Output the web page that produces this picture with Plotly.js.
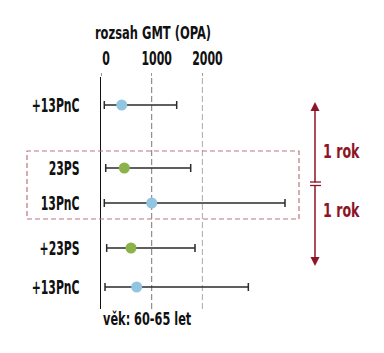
<!DOCTYPE html>
<html>
<head>
<meta charset="utf-8">
<script src="https://cdn.plot.ly/plotly-3.0.1.min.js"></script>
<style>html,body{margin:0;padding:0;background:#fff;}#chart{width:384px;height:353px;}</style>
</head>
<body>
<div id="chart"></div>
<script>
// ---- data ----
const categories = ['+13PnC', '23PS', '13PnC', '+23PS', '+13PnC'];
const vaccine    = ['PnC', 'PS', 'PnC', 'PS', 'PnC'];
const gmt        = [408, 460, 1000, 592, 704];
const lower      = [65, 93, 65, 112, 79];
const upper      = [1493, 1769, 3629, 1854, 2906];
const xTicks     = [0, 1000, 2000];
const xTickText  = ['0', '1000', '2000'];
const titleText  = 'rozsah GMT (OPA)';
const footText   = 'věk: 60-65 let';
const spanText   = ['1 rok', '1 rok'];

// ---- layout geometry ----
const W = 384, H = 353;
const M = {l: 101, r: 85, t: 77, b: 44};
const PW = W - M.l - M.r, PH = H - M.t - M.b;
const rowPos = [28, 91, 126, 171, 210]; // px from plot top
const xp = px => (px - M.l) / PW;
const yp = py => (H - M.b - py) / PH;
const FONT = '"DejaVu Sans Condensed", "DejaVu Sans", sans-serif';
const RED = '#8c1527';
const colors = {PnC: '#92c5e0', PS: '#8cb34a'};

const traces = ['PnC', 'PS'].map(v => {
  const idx = vaccine.map((g, i) => g === v ? i : -1).filter(i => i >= 0);
  return {
    type: 'scatter', mode: 'markers',
    x: idx.map(i => gmt[i]),
    y: idx.map(i => rowPos[i]),
    marker: {color: colors[v], size: 11},
    error_x: {
      type: 'data', symmetric: false,
      array: idx.map(i => upper[i] - gmt[i]),
      arrayminus: idx.map(i => gmt[i] - lower[i]),
      color: '#2b2b2b', thickness: 1.5, width: 4
    },
    hoverinfo: 'x', showlegend: false, cliponaxis: false
  };
});

const layout = {
  width: W, height: H,
  margin: M,
  paper_bgcolor: '#fff', plot_bgcolor: '#fff',
  font: {family: FONT, size: 17, color: '#111'},
  title: {
    text: titleText, font: {family: FONT, size: 17.5, color: '#111', weight: 'bold'},
    xref: 'paper', x: xp(153), xanchor: 'center',
    yref: 'container', y: 1 - 33 / H, yanchor: 'middle'
  },
  xaxis: {
    side: 'top', range: [0, PW / 50.7 * 1000],
    tickvals: xTicks, ticktext: xTickText,
    showgrid: false, zeroline: false, showline: false,
    ticks: 'outside', ticklen: 3, tickcolor: '#999', tickwidth: 1,
    ticklabelshift: 5,
    tickfont: {family: FONT, size: 19, color: '#111', weight: 'bold'},
    fixedrange: true
  },
  yaxis: {
    range: [PH, 0],
    tickvals: rowPos, ticktext: categories,
    showgrid: false, zeroline: false,
    showline: true, linecolor: '#111', linewidth: 1.5,
    ticks: '', ticklabelstandoff: 16,
    tickfont: {family: FONT, size: 19.5, color: '#111', weight: 'bold'},
    fixedrange: true
  },
  shapes: [
    {type: 'line', xref: 'x', yref: 'paper', x0: xTicks[1], x1: xTicks[1], y0: 0, y1: 1,
     line: {color: '#777', width: 1, dash: '6px,3px'}, layer: 'below'},
    {type: 'line', xref: 'x', yref: 'paper', x0: xTicks[2], x1: xTicks[2], y0: 0, y1: 1,
     line: {color: '#aaa', width: 1, dash: '6px,3px'}, layer: 'below'},
    {type: 'rect', xref: 'paper', yref: 'paper', x0: xp(27), x1: xp(299), y0: yp(219), y1: yp(151),
     line: {color: '#b9777d', width: 1.2, dash: '5px,3px'}, fillcolor: 'rgba(0,0,0,0)'},
    {type: 'line', xref: 'paper', yref: 'paper', x0: xp(310), x1: xp(321), y0: yp(182), y1: yp(182),
     line: {color: RED, width: 1.3}},
    {type: 'line', xref: 'paper', yref: 'paper', x0: xp(310), x1: xp(321), y0: yp(185.5), y1: yp(185.5),
     line: {color: RED, width: 1.3}}
  ],
  annotations: [
    {xref: 'paper', yref: 'paper', x: xp(315), y: yp(102), ax: 0, ay: 82, text: '',
     showarrow: true, arrowhead: 2, arrowsize: 1.2, arrowwidth: 1.5, arrowcolor: RED},
    {xref: 'paper', yref: 'paper', x: xp(315), y: yp(266), ax: 0, ay: -82, text: '',
     showarrow: true, arrowhead: 2, arrowsize: 1.2, arrowwidth: 1.5, arrowcolor: RED},
    {xref: 'paper', yref: 'paper', x: xp(321), y: yp(151), xanchor: 'left', yanchor: 'middle',
     text: spanText[0], showarrow: false, font: {family: FONT, size: 19.5, color: RED, weight: 'bold'}},
    {xref: 'paper', yref: 'paper', x: xp(321), y: yp(210), xanchor: 'left', yanchor: 'middle',
     text: spanText[1], showarrow: false, font: {family: FONT, size: 19.5, color: RED, weight: 'bold'}},
    {xref: 'paper', yref: 'paper', x: xp(101), y: yp(319), xanchor: 'left', yanchor: 'middle',
     text: footText, showarrow: false, font: {family: FONT, size: 17.5, color: '#111', weight: 'bold'}}
  ]
};

// narrow the text horizontally to imitate the condensed typeface of the original
function condense(sel, s, origin) {
  document.querySelectorAll('#chart ' + sel).forEach(t => {
    const bb = t.getBBox();
    const ox = origin === 'right' ? bb.x + bb.width : origin === 'left' ? bb.x : bb.x + bb.width / 2;
    const prev = t.getAttribute('transform') || '';
    t.setAttribute('transform', prev + ` translate(${ox},0) scale(${s},1) translate(${-ox},0)`);
  });
}

Plotly.newPlot('chart', traces, layout, {displayModeBar: false, staticPlot: true}).then(() => {
  condense('.ytick text', 0.62, 'right');
  condense('.xtick text', 0.64, 'center');
  condense('.gtitle', 0.73, 'center');
  condense('.annotation-text', 0.72, 'left');
});
</script>
</body>
</html>
